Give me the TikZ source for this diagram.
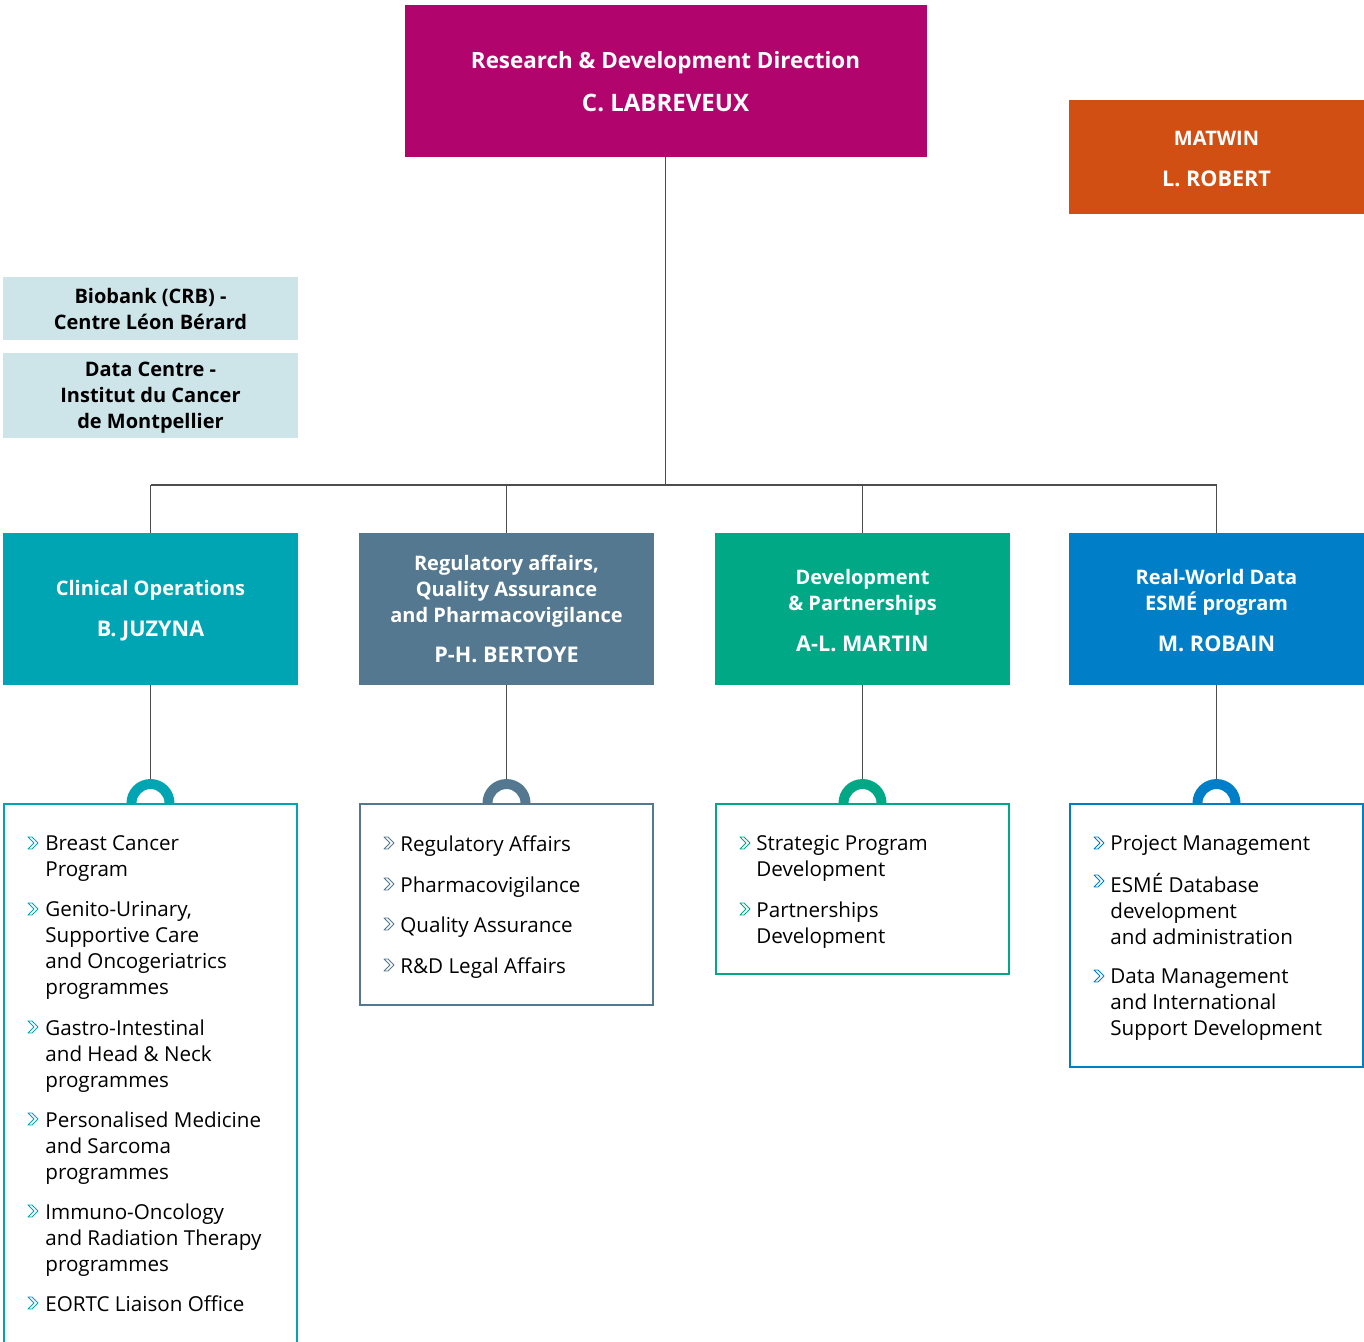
\documentclass[tikz,border=0pt]{standalone}
\usepackage{fontspec}
\setmainfont{Open Sans}
\definecolor{cmag}{HTML}{B1056D}
\definecolor{corange}{HTML}{D14F13}
\definecolor{clight}{HTML}{CDE4E9}
\definecolor{cteal}{HTML}{00A5B4}
\definecolor{cslate}{HTML}{53788F}
\definecolor{cgreen}{HTML}{00A886}
\definecolor{cblue}{HTML}{007FC8}
\definecolor{cline}{HTML}{4D4D4D}
\newcommand{\chief}[1]{{\fontsize{10.8}{13}\selectfont #1}}
\newcommand{\topline}{\rule{0pt}{9.5pt}}
\begin{document}
\begin{tikzpicture}[
    x=0.5pt, y=-0.5pt,
    every node/.style={font=\fontsize{10.3}{13}\selectfont},
    headbox/.style={minimum width=147.5pt, minimum height=76pt, inner sep=0pt, align=center, text=white, font=\fontsize{10}{13}\selectfont\bfseries},
    infobox/.style={fill=clight, minimum width=147.5pt, inner sep=0pt, align=center, font=\fontsize{10}{13}\selectfont\bfseries},
    listbox/.style={draw=#1, line width=1pt, fill=white, minimum width=146.5pt, anchor=north, inner sep=0pt},
    itm/.style={anchor=north west, inner sep=0pt, align=left},
    conn/.style={draw=cline, line width=0.7pt},
    bul/.pic={\draw[line width=0.45pt, line join=round] (-6,-6) -- (-2,-6) -- (4,0) -- (-2,6) -- (-6,6) -- (0,0) -- cycle;}
]
\useasboundingbox (0,0) rectangle (1364,1341);

% Direction
\node[headbox, fill=cmag, minimum width=261pt, font=\fontsize{11.2}{13}\selectfont\bfseries] (dir) at (665.5,81) {\topline Research \& Development Direction\\[8.5pt]{\fontsize{12}{13}\selectfont C. LABREVEUX}};
\node[headbox, fill=corange, minimum height=57pt] (matwin) at (1216.5,157) {\topline MATWIN\\[7.5pt]\chief{L. ROBERT}};

% Plateformes
\node[infobox, minimum height=31.5pt] (biobank) at (150.5,308.5) {Biobank (CRB) -\\Centre Léon Bérard};
\node[infobox, minimum height=42.5pt] (datacentre) at (150.5,395.5) {\topline Data Centre -\\Institut du Cancer\\de Montpellier};

% Départements
\node[headbox, fill=cteal] (clin) at (150.5,609) {\topline Clinical Operations\\[7.5pt]\chief{B. JUZYNA}};
\node[headbox, fill=cslate] (reg) at (506.5,609) {Regulatory affairs,\\Quality Assurance\\and Pharmacovigilance\\[7pt]\chief{P-H. BERTOYE}};
\node[headbox, fill=cgreen] (dev) at (862.5,609) {\topline Development\\\& Partnerships\\[7.5pt]\chief{A-L. MARTIN}};
\node[headbox, fill=cblue] (rwd) at (1216.5,609) {\topline Real-World Data\\ESMÉ program\\[7.5pt]\chief{M. ROBAIN}};

% Liaisons
\coordinate (bus) at (665.5,485);
\draw[conn] (dir) -- (bus);
\draw[conn] (clin |- bus) -- (rwd |- bus);
\foreach \n in {clin,reg,dev,rwd} {
    \draw[conn] (\n |- bus) -- (\n);
}

% Listes
\node[listbox=cteal, minimum height=272.5pt] (clinlist) at (150.5,803) {};
\node[listbox=cslate, minimum height=100.5pt] (reglist) at (506.5,803) {};
\node[listbox=cgreen, minimum height=85pt] (devlist) at (862.5,803) {};
\node[listbox=cblue, minimum height=131.5pt] (rwdlist) at (1216.5,803) {};

\foreach \n/\c in {clin/cteal,reg/cslate,dev/cgreen,rwd/cblue} {
    \draw[conn] (\n) -- ([yshift=12pt]\n list.north);
    \fill[\c] (\n list.north) ++(-24,0) arc[start angle=180, end angle=0, radius=12pt]
        -- ++(-10,0) arc[start angle=0, end angle=180, radius=7pt] -- cycle;
}

\foreach \y/\t in {843/{Breast Cancer\\Program}, 909/{Genito-Urinary,\\Supportive Care\\and Oncogeriatrics\\programmes}, 1027/{Gastro-Intestinal\\and Head \& Neck\\programmes}, 1119/{Personalised Medicine\\and Sarcoma\\programmes}, 1211/{Immuno-Oncology\\and Radiation Therapy\\programmes}, 1303/{EORTC Liaison Office}} {
    \pic[cteal] at (34,\y) {bul};
    \node[itm] at (45,\y-8) {\t};
}
\foreach \y/\t in {843/{Regulatory Affairs}, 884/{Pharmacovigilance}, 924/{Quality Assurance}, 965/{R\&D Legal Affairs}} {
    \pic[cslate] at (390,\y) {bul};
    \node[itm] at (400,\y-8) {\t};
}
\foreach \y/\t in {843/{Strategic Program\\Development}, 909/{Partnerships\\Development}} {
    \pic[cgreen] at (746,\y) {bul};
    \node[itm] at (756,\y-8) {\t};
}
\foreach \y/\t in {843/{Project Management}, 881/{ESMÉ Database\\development\\and administration}, 976/{Data Management\\and International\\Support Development}} {
    \pic[cblue] at (1100,\y) {bul};
    \node[itm] at (1110,\y-8) {\t};
}
\end{tikzpicture}
\end{document}
